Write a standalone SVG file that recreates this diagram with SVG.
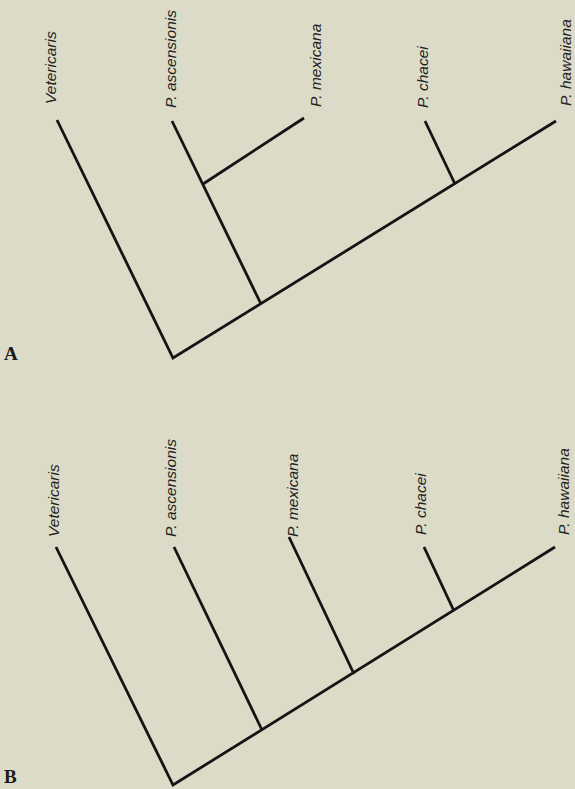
<svg xmlns="http://www.w3.org/2000/svg" width="575" height="789" viewBox="0 0 575 789">
<style>
.bg{fill:#dcdbc7}
.br{fill:none;stroke:#141414;stroke-width:2.8;stroke-linecap:butt;stroke-linejoin:miter}
.tx{font-family:"Liberation Sans",Arial,sans-serif;font-style:italic;font-size:15.5px;fill:#222}
.pl{font-family:"Liberation Serif","Times New Roman",serif;font-weight:bold;font-size:19px;fill:#1a1a1a}
</style>
<rect class="bg" x="0" y="0" width="575" height="789"/>

<!-- Panel A -->
<g id="panelA-label"><text class="pl" x="4" y="360">A</text></g>
<g id="A-vetericaris"><text class="tx" transform="translate(56,104) rotate(-90)">Vetericaris</text></g>
<g id="A-ascensionis"><text class="tx" transform="translate(176,108) rotate(-90)">P. ascensionis</text></g>
<g id="A-mexicana"><text class="tx" transform="translate(321,107) rotate(-90)">P. mexicana</text></g>
<g id="A-chacei"><text class="tx" transform="translate(428,108) rotate(-90)">P. chacei</text></g>
<g id="A-hawaiiana"><text class="tx" transform="translate(571,106) rotate(-90)">P. hawaiiana</text></g>
<g id="A-connectors">
<polyline class="br" points="57,120 173,358 556,121"/>
<line class="br" x1="172" y1="121" x2="261" y2="304"/>
<line class="br" x1="203" y1="184" x2="304" y2="118"/>
<line class="br" x1="425" y1="121" x2="455" y2="184"/>
</g>

<!-- Panel B -->
<g id="panelB-label"><text class="pl" x="4" y="783">B</text></g>
<g id="B-vetericaris"><text class="tx" transform="translate(59,537) rotate(-90)">Vetericaris</text></g>
<g id="B-ascensionis"><text class="tx" transform="translate(176,537) rotate(-90)">P. ascensionis</text></g>
<g id="B-mexicana"><text class="tx" transform="translate(298,537) rotate(-90)">P. mexicana</text></g>
<g id="B-chacei"><text class="tx" transform="translate(426,535) rotate(-90)">P. chacei</text></g>
<g id="B-hawaiiana"><text class="tx" transform="translate(569,535) rotate(-90)">P. hawaiiana</text></g>
<g id="B-connectors">
<polyline class="br" points="56,547 173,785 555,547"/>
<line class="br" x1="174" y1="547" x2="262" y2="730"/>
<line class="br" x1="289" y1="537" x2="354" y2="674"/>
<line class="br" x1="424" y1="547" x2="454" y2="611"/>
</g>
</svg>
